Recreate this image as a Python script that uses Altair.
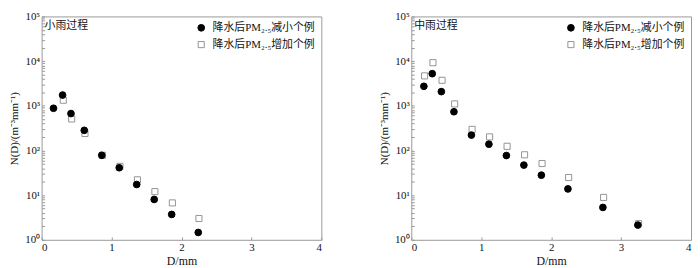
import altair as alt
import pandas as pd

FONT = "Times New Roman, Liberation Serif, Noto Sans CJK SC"

series_names = ["降水后PM₂.₅减小个例", "降水后PM₂.₅增加个例"]
panel_titles = ["小雨过程", "中雨过程"]

# 小雨过程
light_dec_D = [0.17, 0.30, 0.42, 0.61, 0.86, 1.11, 1.36, 1.61, 1.86, 2.24]
light_dec_N = [880, 1740, 670, 282, 78, 41, 17.3, 8.0, 3.7, 1.46]
light_inc_D = [0.31, 0.43, 0.62, 0.87, 1.12, 1.37, 1.62, 1.87, 2.25]
light_inc_N = [1330, 507, 240, 78, 44, 22, 12, 6.7, 3.0]

# 中雨过程
mod_dec_D = [0.18, 0.30, 0.43, 0.61, 0.86, 1.11, 1.36, 1.61, 1.86, 2.24, 2.74, 3.24]
mod_dec_N = [2730, 5230, 2075, 735, 221, 138, 77, 47, 28, 13.8, 5.3, 2.14]
mod_inc_D = [0.19, 0.31, 0.44, 0.62, 0.87, 1.12, 1.37, 1.62, 1.87, 2.25, 2.75, 3.25]
mod_inc_N = [4670, 9220, 3720, 1100, 296, 201, 124, 80, 51, 24.8, 8.9, 2.3]

x_ticks = [0, 1, 2, 3, 4]
y_ticks = [m * 10 ** k for k in range(5) for m in range(1, 10)] + [100000]

label_expr = (
    "abs(log(datum.value)/LN10 - round(log(datum.value)/LN10)) < 1e-6 ? "
    "'10' + ['⁰','¹','²','³','⁴','⁵'][round(log(datum.value)/LN10)] : ''"
)

W, H = 283, 226


def panel(title, dec_D, dec_N, inc_D, inc_N):
    rows = [{"D": d, "N": n, "series": series_names[1]} for d, n in zip(inc_D, inc_N)]
    rows += [{"D": d, "N": n, "series": series_names[0]} for d, n in zip(dec_D, dec_N)]
    df = pd.DataFrame(rows)

    legend = alt.Legend(
        title=None, orient="top-right", offset=6, padding=0,
        labelFont=FONT, labelFontSize=11, labelColor="#111", labelLimit=0,
        symbolStrokeWidth=1, rowPadding=5, labelOffset=6,
    )
    pts = alt.Chart(df).mark_point(filled=True, opacity=1, strokeWidth=1).encode(
        x=alt.X("D:Q", scale=alt.Scale(domain=[0, 4], nice=False),
                axis=alt.Axis(values=x_ticks, title="D/mm", format="d",
                              offset=-3, tickSize=3, domain=False, grid=False,
                              labelPadding=2, titlePadding=3,
                              labelFont=FONT, titleFont=FONT, labelFontSize=11,
                              titleFontSize=12, titleFontWeight="normal",
                              labelColor="#111", titleColor="#111", tickColor="#999")),
        y=alt.Y("N:Q", scale=alt.Scale(type="log", domain=[1, 100000], nice=False),
                axis=alt.Axis(values=y_ticks, labelExpr=label_expr,
                              title="N(D)/(m⁻³mm⁻¹)",
                              offset=-3, tickSize=3, domain=False, grid=False,
                              labelPadding=2, titlePadding=5,
                              labelFont=FONT, titleFont=FONT, labelFontSize=11,
                              titleFontSize=11, titleFontWeight="normal",
                              labelColor="#111", titleColor="#111", tickColor="#999")),
        shape=alt.Shape("series:N", scale=alt.Scale(domain=series_names, range=["circle", "square"]), legend=legend),
        fill=alt.Fill("series:N", scale=alt.Scale(domain=series_names, range=["#000000", "#ffffff"]), legend=legend),
        stroke=alt.Stroke("series:N", scale=alt.Scale(domain=series_names, range=["#000000", "#949494"]), legend=legend),
        size=alt.Size("series:N", scale=alt.Scale(domain=series_names, range=[46, 38]), legend=legend),
    )
    txt = alt.Chart(pd.DataFrame({"t": [title]})).mark_text(
        align="left", baseline="middle", font=FONT, fontSize=11, color="#111"
    ).encode(x=alt.value(3), y=alt.value(10), text="t:N")
    return alt.layer(pts, txt).properties(width=W, height=H)


left = panel(panel_titles[0], light_dec_D, light_dec_N, light_inc_D, light_inc_N)
right = panel(panel_titles[1], mod_dec_D, mod_dec_N, mod_inc_D, mod_inc_N)

chart = (
    alt.hconcat(left, right, spacing=56)
    .resolve_legend(shape="independent", fill="independent", stroke="independent", size="independent")
    .properties(padding={"left": 0, "top": 0, "right": 0, "bottom": 0})
    .configure_view(stroke="#9a9a9a", strokeWidth=1)
)

chart.save("out.html", embed_options={"renderer": "svg", "actions": False})
